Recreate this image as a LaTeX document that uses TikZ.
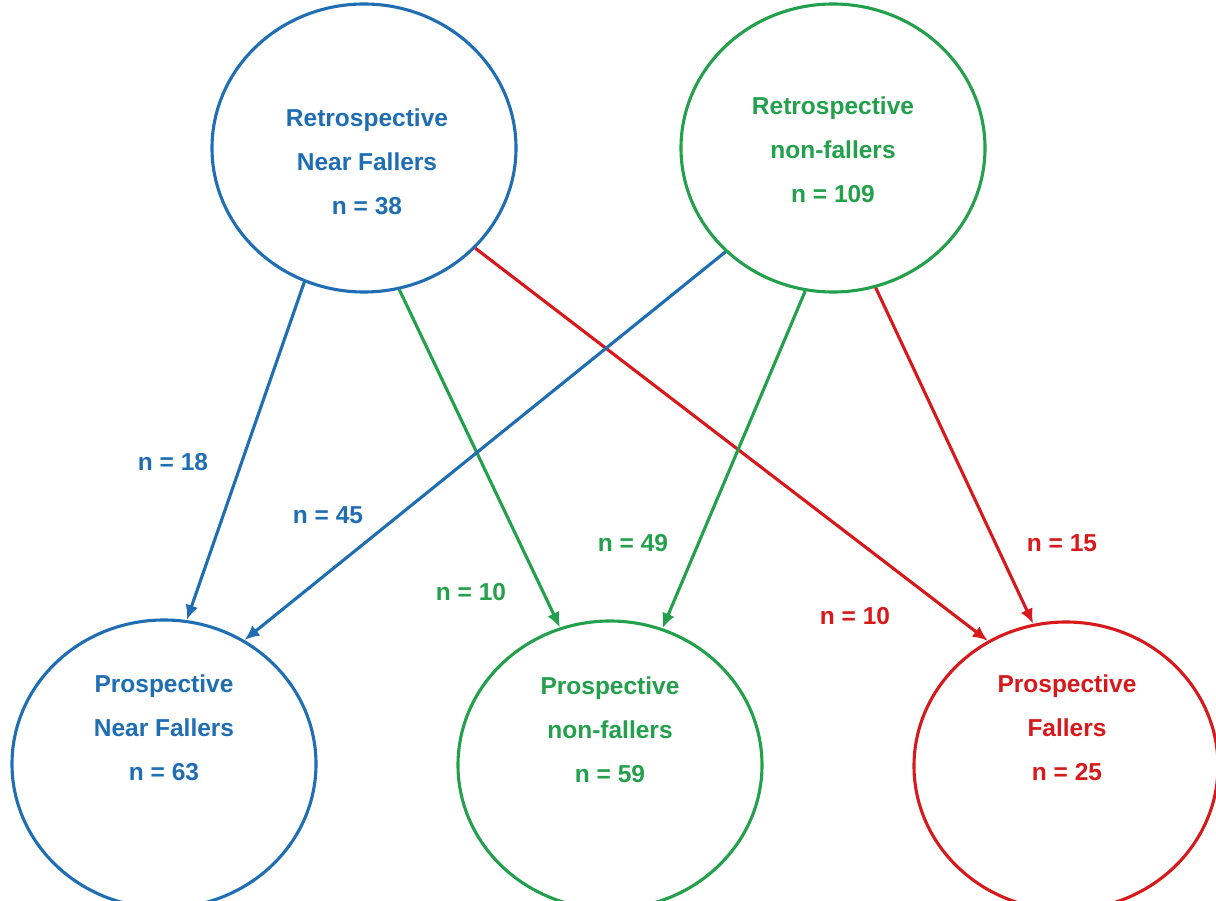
\documentclass[tikz,border=0pt]{standalone}
\usepackage{fontspec}
\setmainfont{Liberation Sans}
\usetikzlibrary{shapes.geometric,arrows.meta}
\definecolor{cblue}{RGB}{31,110,180}
\definecolor{cgreen}{RGB}{34,160,75}
\definecolor{cred}{RGB}{215,25,28}
\begin{document}
\begin{tikzpicture}[x=1pt,y=-1pt,
  circ/.style={ellipse,draw,line width=3.1pt,inner sep=0pt,minimum width=304pt,minimum height=288pt},
  txt/.style={align=center,font=\fontsize{24.5}{44}\selectfont\bfseries},
  lab/.style={font=\fontsize{24.5}{28}\selectfont\bfseries},
  arr/.style={line width=3.1pt,-{Latex[length=15pt,width=13pt]}}]
\useasboundingbox (0,0) rectangle (1216,901);
\fill[white] (0,0) rectangle (1216,901);
% circles
\node[circ,draw=cblue] (rnf) at (364,148) {};
\node[circ,draw=cgreen] (rnon) at (833,148) {};
\node[circ,draw=cblue] (pnf) at (164,764) {};
\node[circ,draw=cgreen] (pnon) at (610,765) {};
\node[circ,draw=cred] (pf) at (1066,766) {};
% texts
\node[txt,text=cblue] (trnf) at (367,162) {Retrospective\\Near Fallers\\n = 38};
\node[txt,text=cgreen] (trnon) at (833,150) {Retrospective\\non-fallers\\n = 109};
\node[txt,text=cblue] (tpnf) at (164,728) {Prospective\\Near Fallers\\n = 63};
\node[txt,text=cgreen] (tpnon) at (610,730) {Prospective\\non-fallers\\n = 59};
\node[txt,text=cred] (tpf) at (1067,728) {Prospective\\Fallers\\n = 25};
% connectors
\draw[arr,cblue] (rnf.-114.4) -- (pnf.81.4);
\draw[arr,cgreen] (rnf.-76.7) -- (pnon.110.8);
\draw[arr,cred] (rnf.-42.2) -- (pf.122.7);
\draw[arr,cblue] (rnon.-136) -- (pnf.57.9);
\draw[arr,cgreen] (rnon.-101.8) -- (pnon.69.6);
\draw[arr,cred] (rnon.-73.4) -- (pf.103.1);
% labels
\node[lab,text=cblue] (l18) at (173,462) {n = 18};
\node[lab,text=cblue] (l45) at (328,515) {n = 45};
\node[lab,text=cgreen] (l10g) at (471,592) {n = 10};
\node[lab,text=cgreen] (l49) at (633,543) {n = 49};
\node[lab,text=cred] (l10r) at (855,616) {n = 10};
\node[lab,text=cred] (l15) at (1062,543) {n = 15};
\end{tikzpicture}
\end{document}
